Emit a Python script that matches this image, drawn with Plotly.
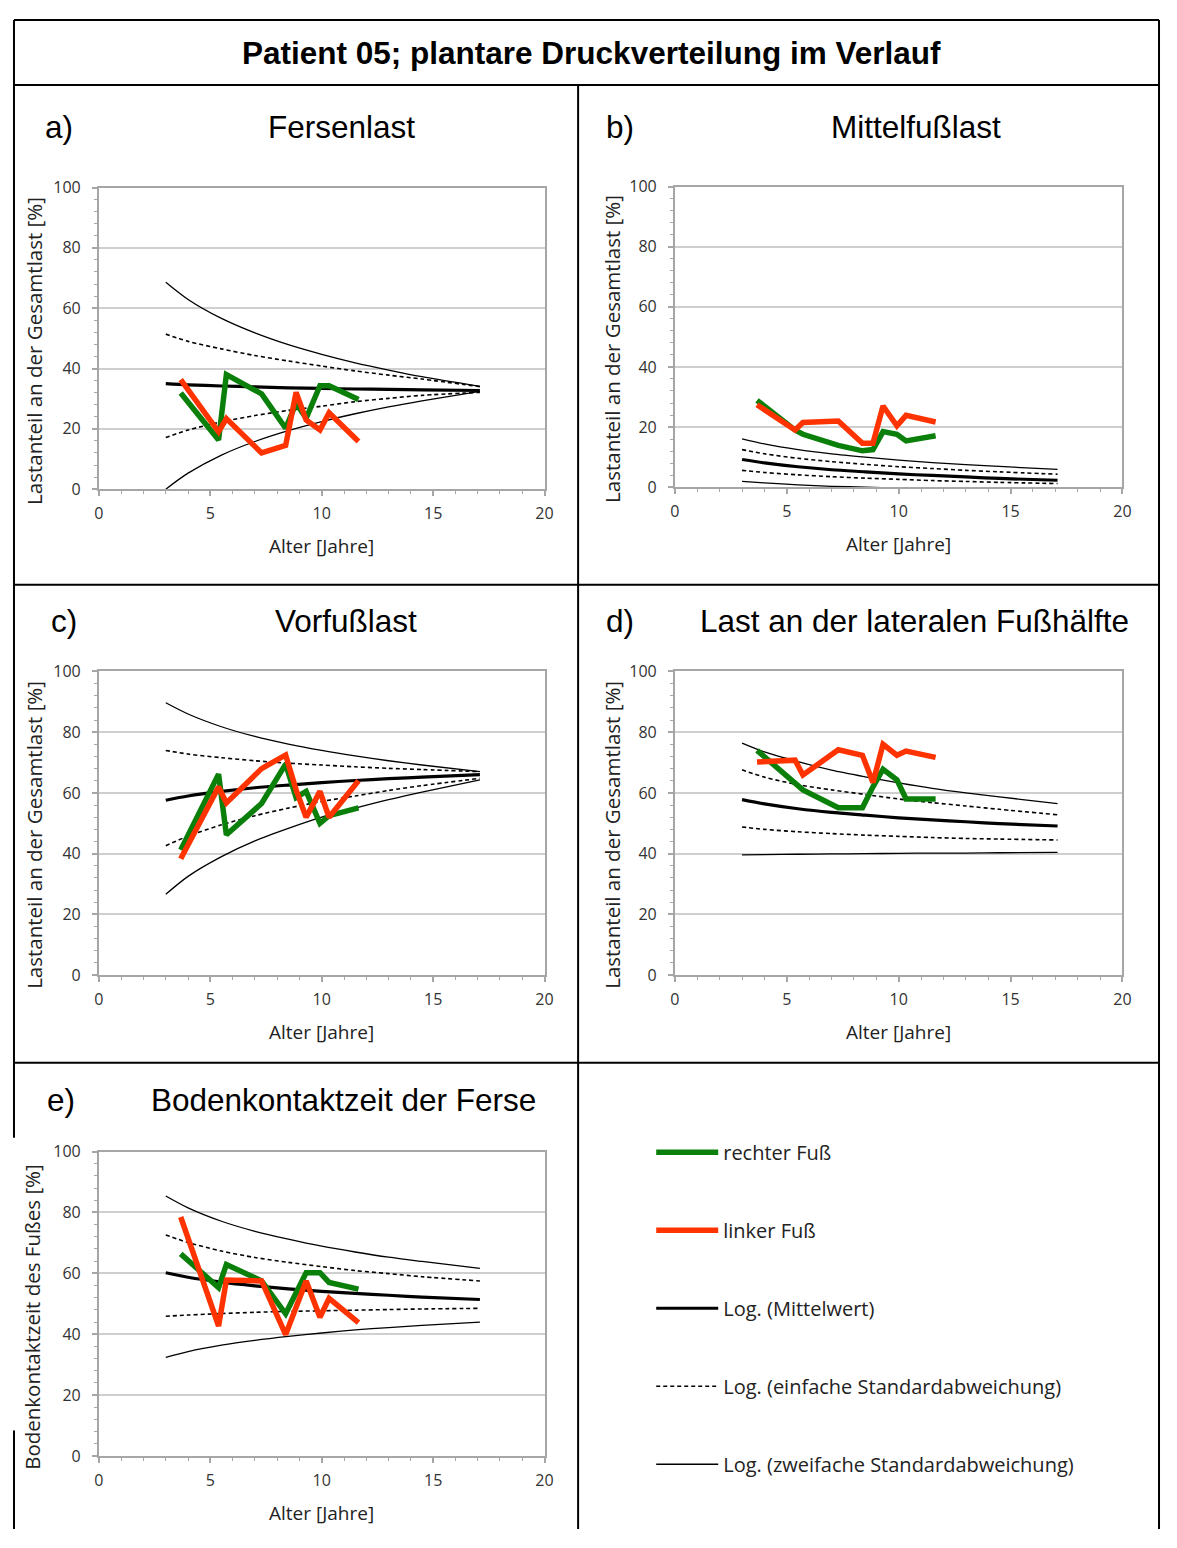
import plotly.graph_objects as go

# Page is 1177x1548; the browser keeps its default 8px body margin,
# so the figure is 16px smaller and all reference pixel positions are shifted by 8.
PAGE_W, PAGE_H = 1177, 1548
BODY_MARGIN = 8
W, H = PAGE_W - 2 * BODY_MARGIN, PAGE_H - 2 * BODY_MARGIN

# ---------------- data ----------------
PATIENT_AGES = [3.67, 5.37, 5.72, 7.3, 8.38, 8.85, 9.3, 9.92, 10.33, 11.65]
NORM_AGES = [3.0, 4.0, 5.5, 7.0, 8.5, 10.0, 11.5, 13.0, 14.5, 17.1]

# a) Fersenlast
A_RIGHT = [31.9, 16.3, 38.0, 31.6, 20.2, 28.5, 23.5, 34.3, 34.3, 29.7]
A_LEFT = [36.3, 19.0, 23.4, 12.0, 14.5, 32.1, 22.9, 19.6, 25.3, 15.8]
A_MEAN = [35.0, 34.6, 34.2, 33.9, 33.6, 33.4, 33.2, 33.1, 32.9, 32.7]
A_SD1_UP = [51.4, 49.0, 46.5, 44.3, 42.5, 40.8, 39.2, 37.8, 36.5, 34.0]
A_SD1_LO = [17.1, 19.6, 22.3, 24.4, 26.1, 27.5, 29.0, 30.1, 31.1, 32.1]
A_SD2_UP = [68.6, 62.9, 56.6, 51.8, 47.9, 44.7, 41.9, 39.5, 37.3, 34.1]
A_SD2_LO = [0.0, 5.3, 11.3, 15.8, 19.4, 22.4, 25.0, 27.3, 29.3, 32.4]

# b) Mittelfusslast
B_RIGHT = [28.9, 19.0, 17.6, 13.9, 12.1, 12.5, 18.5, 17.6, 15.4, 17.1]
B_LEFT = [27.4, 19.0, 21.5, 22.0, 14.6, 14.6, 27.0, 20.4, 23.9, 21.7]
B_MEAN = [9.2, 8.1, 6.8, 5.8, 5.1, 4.4, 3.9, 3.4, 2.9, 2.3]
B_SD1_UP = [12.5, 11.1, 9.6, 8.5, 7.6, 6.8, 6.2, 5.6, 5.1, 4.3]
B_SD1_LO = [5.6, 4.9, 4.1, 3.5, 3.0, 2.6, 2.2, 1.9, 1.6, 1.2]
B_SD2_UP = [16.1, 14.4, 12.5, 11.1, 10.0, 9.0, 8.2, 7.5, 6.9, 5.9]
B_SD2_LO = [1.9, 1.4, 0.8, 0.3, 0.0, -0.3, -0.6, -0.8, -1.0, -1.3]

# c) Vorfusslast
C_RIGHT = [41.2, 66.2, 46.2, 56.5, 69.5, 58.5, 60.5, 50.0, 52.5, 55.1]
C_LEFT = [38.3, 62.0, 56.7, 68.0, 72.5, 61.0, 52.0, 60.5, 52.0, 64.0]
C_MEAN = [57.6, 59.0, 60.5, 61.7, 62.6, 63.4, 64.1, 64.7, 65.2, 66.0]
C_SD1_UP = [74.0, 72.8, 71.6, 70.6, 69.8, 69.2, 68.6, 68.1, 67.7, 67.0]
C_SD1_LO = [42.6, 45.8, 49.5, 52.5, 55.0, 57.2, 59.0, 60.8, 62.4, 64.8]
C_SD2_UP = [89.7, 86.0, 81.8, 78.6, 76.1, 74.0, 72.2, 70.6, 69.2, 67.0]
C_SD2_LO = [26.6, 32.5, 39.0, 44.2, 48.3, 52.0, 55.0, 57.8, 60.3, 64.3]

# d) Last an der lateralen Fusshaelfte
D_RIGHT = [74.0, 63.2, 61.0, 55.1, 55.1, 62.0, 67.8, 64.3, 58.0, 58.0]
D_LEFT = [70.2, 70.8, 65.9, 74.2, 72.4, 63.4, 76.0, 72.4, 73.8, 71.7]
D_MEAN = [57.8, 56.4, 54.8, 53.6, 52.7, 51.8, 51.1, 50.5, 49.9, 49.1]
D_SD1_UP = [67.6, 65.2, 62.7, 61.0, 59.5, 58.0, 56.8, 55.7, 54.6, 52.8]
D_SD1_LO = [48.8, 48.0, 47.2, 46.6, 46.1, 45.7, 45.3, 45.0, 44.8, 44.5]
D_SD2_UP = [76.4, 73.5, 70.3, 67.5, 65.3, 63.3, 61.5, 60.0, 58.7, 56.5]
D_SD2_LO = [39.6, 39.7, 39.8, 39.9, 40.0, 40.1, 40.2, 40.2, 40.3, 40.4]

# e) Bodenkontaktzeit der Ferse
E_RIGHT = [66.4, 55.3, 62.9, 57.5, 46.7, 54.0, 60.2, 60.2, 57.0, 54.8]
E_LEFT = [78.5, 42.7, 57.8, 57.5, 39.9, 49.0, 57.5, 45.6, 51.8, 43.8]
E_MEAN = [60.2, 58.7, 57.1, 55.9, 54.9, 54.1, 53.4, 52.8, 52.2, 51.4]
E_SD1_UP = [72.6, 70.1, 67.3, 65.2, 63.6, 62.2, 60.9, 59.9, 58.9, 57.5]
E_SD1_LO = [45.9, 46.3, 46.8, 47.2, 47.5, 47.7, 47.9, 48.1, 48.3, 48.5]
E_SD2_UP = [85.4, 81.5, 77.1, 73.8, 71.2, 68.9, 67.0, 65.3, 63.9, 61.6]
E_SD2_LO = [32.4, 34.3, 36.4, 38.0, 39.3, 40.4, 41.4, 42.2, 42.9, 44.0]

MAIN_TITLE = "Patient 05; plantare Druckverteilung im Verlauf"
PANEL_LETTERS = ["a)", "b)", "c)", "d)", "e)"]
PANEL_TITLES = ["Fersenlast", "Mittelfußlast", "Vorfußlast",
                "Last an der lateralen Fußhälfte", "Bodenkontaktzeit der Ferse"]
Y_TITLES = ["Lastanteil an der Gesamtlast [%]"] * 4 + ["Bodenkontaktzeit des Fußes [%]"]
X_TITLE = "Alter [Jahre]"
LEGEND_NAMES = ["rechter Fuß", "linker Fuß", "Log. (Mittelwert)",
                "Log. (einfache Standardabweichung)", "Log. (zweifache Standardabweichung)"]

PANELS = [
    (A_RIGHT, A_LEFT, A_MEAN, A_SD1_UP, A_SD1_LO, A_SD2_UP, A_SD2_LO),
    (B_RIGHT, B_LEFT, B_MEAN, B_SD1_UP, B_SD1_LO, B_SD2_UP, B_SD2_LO),
    (C_RIGHT, C_LEFT, C_MEAN, C_SD1_UP, C_SD1_LO, C_SD2_UP, C_SD2_LO),
    (D_RIGHT, D_LEFT, D_MEAN, D_SD1_UP, D_SD1_LO, D_SD2_UP, D_SD2_LO),
    (E_RIGHT, E_LEFT, E_MEAN, E_SD1_UP, E_SD1_LO, E_SD2_UP, E_SD2_LO),
]

# ---------------- layout geometry (page pixels) ----------------
BOXES = [(95, 546, 179, 485), (678, 1131, 178, 483), (95, 546, 670, 978),
         (678, 1131, 670, 978), (95, 546, 1157, 1466)]
LETTER_POS = [(55, 118), (622, 118), (60, 619), (622, 619), (57, 1105)]
TITLE_POS = [(341, 118), (922, 118), (345, 619), (921, 619), (343, 1105)]
YTITLE_POS = [(29, 345), (614, 343), (29, 836), (614, 836), (27, 1325)]

GREEN = "#0a7f0a"
RED = "#ff3300"
AXIS_GRAY = "#a6a6a6"
GRID_GRAY = "#cfcfcf"
TICK_FONT = dict(family="Open Sans", size=16, color="#333333")
AXIS_TITLE_FONT_X = dict(family="Open Sans", size=19, color="#222222")
AXIS_TITLE_FONT_Y = dict(family="Open Sans", size=20.5, color="#222222")
HEAD_FONT = dict(family="Liberation Sans", size=31.5, color="black")


def px_x(x):
    return (x - BODY_MARGIN) / W


def px_y(y):
    return 1 - (y - BODY_MARGIN) / H


fig = go.Figure()

for i, (right, left, mean, sd1u, sd1l, sd2u, sd2l) in enumerate(PANELS):
    xa = "x" if i == 0 else f"x{i+1}"
    ya = "y" if i == 0 else f"y{i+1}"
    first = i == 0
    common = dict(xaxis=xa, yaxis=ya, hoverinfo="skip")
    for k, (vals, dash, width, grp, rank) in enumerate([
        (sd2u, "solid", 1.3, "sd2", 5), (sd2l, "solid", 1.3, "sd2", 5),
        (sd1u, "4px,3px", 1.6, "sd1", 4), (sd1l, "4px,3px", 1.6, "sd1", 4),
    ]):
        fig.add_trace(go.Scatter(
            x=NORM_AGES, y=vals, mode="lines",
            line=dict(color="black", width=width, dash=dash, shape="spline", smoothing=0.8),
            name=LEGEND_NAMES[rank - 1], legendgroup=grp, legendrank=rank,
            showlegend=first and k % 2 == 0, **common))
    fig.add_trace(go.Scatter(
        x=NORM_AGES, y=mean, mode="lines",
        line=dict(color="black", width=3.2, shape="spline", smoothing=0.8),
        name=LEGEND_NAMES[2], legendgroup="mean", legendrank=3,
        showlegend=first, **common))
    fig.add_trace(go.Scatter(
        x=PATIENT_AGES, y=right, mode="lines",
        line=dict(color=GREEN, width=5.5, shape="linear"),
        name=LEGEND_NAMES[0], legendgroup="right", legendrank=1,
        showlegend=first, **common))
    fig.add_trace(go.Scatter(
        x=PATIENT_AGES, y=left, mode="lines",
        line=dict(color=RED, width=5.5, shape="linear"),
        name=LEGEND_NAMES[1], legendgroup="left", legendrank=2,
        showlegend=first, **common))

layout_axes = {}
annotations = []
for i, (x0, x1, yt, yb) in enumerate(BOXES):
    xk = "xaxis" if i == 0 else f"xaxis{i+1}"
    yk = "yaxis" if i == 0 else f"yaxis{i+1}"
    xa = "x" if i == 0 else f"x{i+1}"
    ya = "y" if i == 0 else f"y{i+1}"
    layout_axes[xk] = dict(
        domain=[px_x(x0), px_x(x1)], anchor=ya, range=[0, 20],
        tickmode="linear", tick0=0, dtick=5, ticks="outside", ticklen=5,
        tickwidth=1.5, tickcolor=AXIS_GRAY,
        minor=dict(dtick=1, ticks="outside", ticklen=3, tickcolor=AXIS_GRAY, tickwidth=1.2, showgrid=False),
        showline=True, linecolor=AXIS_GRAY, linewidth=2, mirror=True,
        showgrid=False, zeroline=False, tickfont=TICK_FONT, ticklabelstandoff=4,
        fixedrange=True)
    layout_axes[yk] = dict(
        domain=[px_y(yb), px_y(yt)], anchor=xa, range=[0, 100],
        tickmode="linear", tick0=0, dtick=20, ticks="outside", ticklen=5,
        tickwidth=1.5, tickcolor=AXIS_GRAY,
        minor=dict(dtick=4, ticks="outside", ticklen=3, tickcolor=AXIS_GRAY, tickwidth=1.2, showgrid=False),
        showline=True, linecolor=AXIS_GRAY, linewidth=2, mirror=True,
        showgrid=True, gridcolor=GRID_GRAY, gridwidth=1.6, zeroline=False,
        tickfont=TICK_FONT, ticklabelstandoff=8, fixedrange=True)
    annotations.append(dict(
        text=X_TITLE, xref="paper", yref="paper", x=px_x((x0 + x1) / 2), y=px_y(yb + 58),
        showarrow=False, xanchor="center", yanchor="middle", font=AXIS_TITLE_FONT_X))
    yx, yy = YTITLE_POS[i]
    annotations.append(dict(
        text=Y_TITLES[i], xref="paper", yref="paper", x=px_x(yx), y=px_y(yy),
        showarrow=False, xanchor="center", yanchor="middle", textangle=-90,
        font=AXIS_TITLE_FONT_Y))
    lx, ly = LETTER_POS[i]
    annotations.append(dict(
        text=PANEL_LETTERS[i], xref="paper", yref="paper", x=px_x(lx), y=px_y(ly),
        showarrow=False, xanchor="center", yanchor="middle", font=HEAD_FONT))
    tx, ty = TITLE_POS[i]
    annotations.append(dict(
        text=PANEL_TITLES[i], xref="paper", yref="paper", x=px_x(tx), y=px_y(ty),
        showarrow=False, xanchor="center", yanchor="middle", font=HEAD_FONT))

annotations.append(dict(
    text="<b>" + MAIN_TITLE + "</b>", xref="paper", yref="paper", x=px_x(594), y=px_y(42),
    showarrow=False, xanchor="center", yanchor="middle",
    font=dict(family="Liberation Sans", size=31.5, color="black")))

# table borders (page pixel coordinates)
BLINE = dict(color="black", width=2)
RIGHT_EDGE = PAGE_W - BODY_MARGIN - 1
BOTTOM_EDGE = PAGE_H - BODY_MARGIN
shapes = []
for (xa0, ya0, xa1, ya1) in [
    (9, 9, RIGHT_EDGE, 9), (9, 75, RIGHT_EDGE, 75), (9, 582, RIGHT_EDGE, 582),
    (9, 1067, RIGHT_EDGE, 1067),
    (9, 9, 9, 1143), (9, 1440, 9, BOTTOM_EDGE), (RIGHT_EDGE, 9, RIGHT_EDGE, BOTTOM_EDGE),
    (580, 75, 580, BOTTOM_EDGE),
]:
    shapes.append(dict(type="line", xref="paper", yref="paper",
                       x0=px_x(xa0), y0=px_y(ya0), x1=px_x(xa1), y1=px_y(ya1), line=BLINE))

fig.update_layout(
    width=W, height=H, margin=dict(l=0, r=0, t=0, b=0),
    paper_bgcolor="white", plot_bgcolor="white",
    showlegend=True,
    legend=dict(x=px_x(654), y=px_y(1138), xanchor="left", yanchor="top",
                traceorder="grouped", tracegroupgap=49, itemwidth=62,
                font=dict(family="Open Sans", size=20, color="#222222"),
                bgcolor="rgba(0,0,0,0)"),
    annotations=annotations, shapes=shapes,
    **layout_axes)

fig.write_html("out.html", config={"displayModeBar": False})
